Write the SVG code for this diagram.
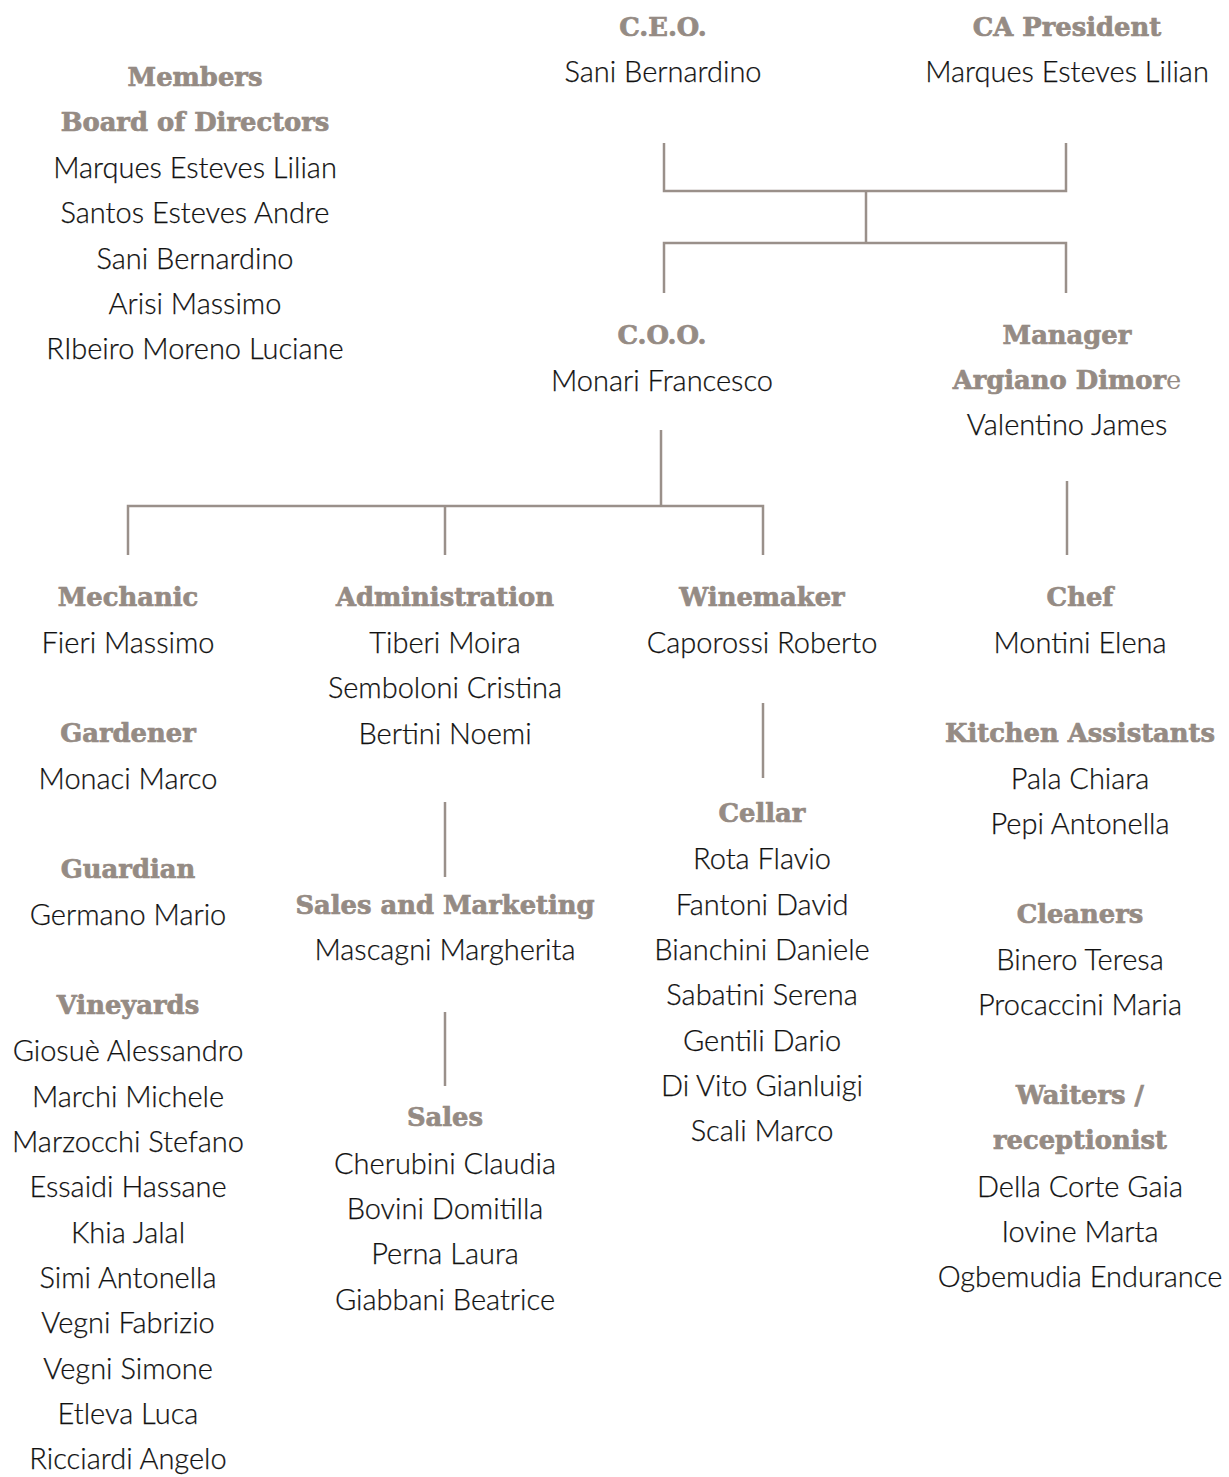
<svg xmlns="http://www.w3.org/2000/svg" width="1229" height="1477" viewBox="0 0 1229 1477">
<style>
.h{font-family:"DejaVu Serif",serif;font-weight:bold;font-size:25.8px;fill:#958b84;stroke:#958b84;stroke-width:0.7;text-anchor:middle}
.t{font-family:"Lato","Liberation Sans",sans-serif;font-weight:300;font-size:29px;fill:#111;stroke:#111;stroke-width:0.25;text-anchor:middle}
.c{stroke:#9a908a;stroke-width:2.5;fill:none}
</style>
<rect width="1229" height="1477" fill="#fff"/>
<g id="connectors" class="c">
<path d="M664 143V191H1066V143M866 191V243M664 293V243H1066V293"/>
<path d="M661 430V506M128 555V506H763V555M445 506V555"/>
<path d="M1067 481V555"/>
<path d="M445 802V877M445 1012V1086"/>
<path d="M763 703V778"/>
</g>
<g id="ceo"><text class="h" x="663" y="36">C.E.O.</text><text class="t" x="663" y="82">Sani Bernardino</text></g>
<g id="ca-president"><text class="h" x="1067" y="36">CA President</text><text class="t" x="1067" y="82">Marques Esteves Lilian</text></g>
<g id="board">
<text class="h" x="195" y="86">Members</text>
<text class="h" x="195" y="131">Board of Directors</text>
<text class="t" x="195" y="178">Marques Esteves Lilian</text>
<text class="t" x="195" y="223">Santos Esteves Andre</text>
<text class="t" x="195" y="269">Sani Bernardino</text>
<text class="t" x="195" y="314">Arisi Massimo</text>
<text class="t" x="195" y="359">RIbeiro Moreno Luciane</text>
</g>
<g id="coo"><text class="h" x="662" y="344">C.O.O.</text><text class="t" x="662" y="391">Monari Francesco</text></g>
<g id="manager"><text class="h" x="1067" y="344">Manager</text><text class="h" x="1067" y="389">Argiano Dimor<tspan font-weight="normal" stroke-width="0">e</tspan></text><text class="t" x="1067" y="435">Valentino James</text></g>
<g id="mechanic"><text class="h" x="128" y="606">Mechanic</text><text class="t" x="128" y="653">Fieri Massimo</text></g>
<g id="gardener"><text class="h" x="128" y="742">Gardener</text><text class="t" x="128" y="789">Monaci Marco</text></g>
<g id="guardian"><text class="h" x="128" y="878">Guardian</text><text class="t" x="128" y="925">Germano Mario</text></g>
<g id="vineyards">
<text class="h" x="128" y="1014">Vineyards</text>
<text class="t" x="128" y="1061">Giosuè Alessandro</text>
<text class="t" x="128" y="1107">Marchi Michele</text>
<text class="t" x="128" y="1152">Marzocchi Stefano</text>
<text class="t" x="128" y="1197">Essaidi Hassane</text>
<text class="t" x="128" y="1243">Khia Jalal</text>
<text class="t" x="128" y="1288">Simi Antonella</text>
<text class="t" x="128" y="1333">Vegni Fabrizio</text>
<text class="t" x="128" y="1379">Vegni Simone</text>
<text class="t" x="128" y="1424">Etleva Luca</text>
<text class="t" x="128" y="1469">Ricciardi Angelo</text>
</g>
<g id="administration">
<text class="h" x="445" y="606">Administration</text>
<text class="t" x="445" y="653">Tiberi Moira</text>
<text class="t" x="445" y="698">Semboloni Cristina</text>
<text class="t" x="445" y="744">Bertini Noemi</text>
</g>
<g id="sales-marketing"><text class="h" x="445" y="914">Sales and Marketing</text><text class="t" x="445" y="960">Mascagni Margherita</text></g>
<g id="sales">
<text class="h" x="445" y="1126">Sales</text>
<text class="t" x="445" y="1174">Cherubini Claudia</text>
<text class="t" x="445" y="1219">Bovini Domitilla</text>
<text class="t" x="445" y="1264">Perna Laura</text>
<text class="t" x="445" y="1310">Giabbani Beatrice</text>
</g>
<g id="winemaker"><text class="h" x="762" y="606">Winemaker</text><text class="t" x="762" y="653">Caporossi Roberto</text></g>
<g id="cellar">
<text class="h" x="762" y="822">Cellar</text>
<text class="t" x="762" y="869">Rota Flavio</text>
<text class="t" x="762" y="915">Fantoni David</text>
<text class="t" x="762" y="960">Bianchini Daniele</text>
<text class="t" x="762" y="1005">Sabatini Serena</text>
<text class="t" x="762" y="1051">Gentili Dario</text>
<text class="t" x="762" y="1096">Di Vito Gianluigi</text>
<text class="t" x="762" y="1141">Scali Marco</text>
</g>
<g id="chef"><text class="h" x="1080" y="606">Chef</text><text class="t" x="1080" y="653">Montini Elena</text></g>
<g id="kitchen">
<text class="h" x="1080" y="742">Kitchen Assistants</text>
<text class="t" x="1080" y="789">Pala Chiara</text>
<text class="t" x="1080" y="834">Pepi Antonella</text>
</g>
<g id="cleaners">
<text class="h" x="1080" y="923">Cleaners</text>
<text class="t" x="1080" y="970">Binero Teresa</text>
<text class="t" x="1080" y="1015">Procaccini Maria</text>
</g>
<g id="waiters">
<text class="h" x="1080" y="1104">Waiters /</text>
<text class="h" x="1080" y="1149">receptionist</text>
<text class="t" x="1080" y="1197">Della Corte Gaia</text>
<text class="t" x="1080" y="1242">Iovine Marta</text>
<text class="t" x="1080" y="1287">Ogbemudia Endurance</text>
</g>
</svg>
